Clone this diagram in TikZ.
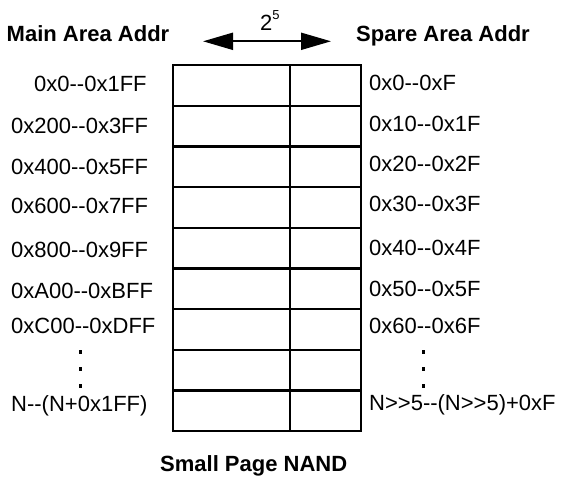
\documentclass[tikz,border=0pt]{standalone}
\usepackage{fontspec}
\setmainfont{Liberation Sans}
\usetikzlibrary{arrows.meta}
\newcommand\hh{-\kern0pt-}
\newcommand\ggt{>\kern0pt>}
\begin{document}
\begin{tikzpicture}[x=1pt,y=-1pt,
  lab/.style={anchor=base west,inner sep=0pt,font=\fontsize{22}{26}\selectfont},
  hdr/.style={anchor=base west,inner sep=0pt,font=\fontsize{22}{26}\selectfont\bfseries},
  maincell/.style={draw,line width=2.2pt,minimum width=117.3pt,minimum height=40.67pt,inner sep=0pt,anchor=north west},
  sparecell/.style={draw,line width=2.2pt,minimum width=71pt,minimum height=40.67pt,inner sep=0pt,anchor=north west},
  dotmark/.style={fill=black,inner sep=0pt,minimum width=3pt,minimum height=4pt},
  widtharrow/.style={line width=2pt,{Triangle[length=30pt,width=17pt]}-{Triangle[length=30pt,width=17pt]}}]
\useasboundingbox (0,0) rectangle (561,479);

% table
\foreach \i in {0,...,8}{
  \node[maincell] (m\i) at (171.7,{64+40.67*\i}) {};
  \node[sparecell] (s\i) at (289,{64+40.67*\i}) {};
}

% headers
\node[hdr] (mainhdr) at (6.5,41) {Main Area Addr};
\node[hdr] (sparehdr) at (356,41) {Spare Area Addr};
\node[hdr] (title) at (160,471) {Small Page NAND};

% width arrow
\coordinate (al) at (203,41.3);
\coordinate (ar) at (331,41.3);
\draw[widtharrow] (al) -- (ar);
\node[lab] (pow) at (260,30) {2\raisebox{11pt}{\fontsize{13}{13}\selectfont 5}};

% main area labels
\node[lab] (l0) at (34,91.7) {0x0\hh0x1FF};
\node[lab] (l1) at (11,133.3) {0x200\hh0x3FF};
\node[lab] (l2) at (11,174) {0x400\hh0x5FF};
\node[lab] (l3) at (11,213.3) {0x600\hh0x7FF};
\node[lab] (l4) at (11,257.3) {0x800\hh0x9FF};
\node[lab] (l5) at (11,298.3) {0xA00\hh0xBFF};
\node[lab] (l6) at (11,333.3) {0xC00\hh0xDFF};
\node[lab] (l8) at (11,411.7) {N\hh(N+0x1FF)};

% spare area labels
\node[lab] (r0) at (369,90.7) {0x0\hh0xF};
\node[lab] (r1) at (369,131.7) {0x10\hh0x1F};
\node[lab] (r2) at (369,171.7) {0x20\hh0x2F};
\node[lab] (r3) at (369,211.7) {0x30\hh0x3F};
\node[lab] (r4) at (369,255) {0x40\hh0x4F};
\node[lab] (r5) at (369,296) {0x50\hh0x5F};
\node[lab] (r6) at (369,333.3) {0x60\hh0x6F};
\node[lab] (r8) at (369,410) {N\ggt5\hh(N\ggt5)+0xF};

% continuation dots
\node[dotmark] (ld1) at (80,352) {};
\node[dotmark] (ld2) at (80,369) {};
\node[dotmark] (ld3) at (80,386) {};
\node[dotmark] (rd1) at (423.3,352) {};
\node[dotmark] (rd2) at (423.3,369) {};
\node[dotmark] (rd3) at (423.3,386) {};
\end{tikzpicture}
\end{document}
